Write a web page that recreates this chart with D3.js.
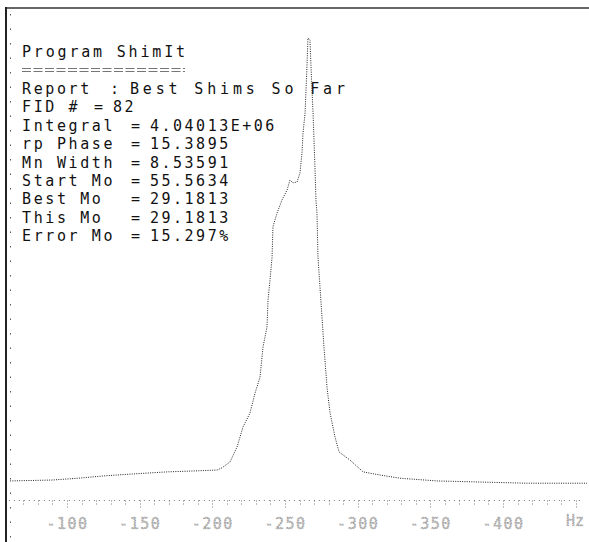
<!DOCTYPE html>
<html><head><meta charset="utf-8">
<script src="https://cdn.jsdelivr.net/npm/d3@7"></script>
<style>
html,body{margin:0;padding:0;background:#fff;}
svg{display:block;}
text{white-space:pre;}
</style></head>
<body>
<script>
// ---- data ----
const reportTitle = "Program ShimIt";
const reportLabels = ["Report","FID #","Integral","rp Phase","Mn Width","Start Mo","Best Mo","This Mo","Error Mo"];
const reportSeps   = [":","=","=","=","=","=","=","=","="];
const reportValues = ["Best Shims So Far","82","4.04013E+06","15.3895","8.53591","55.5634","29.1813","29.1813","15.297%"];
// spectrum: frequency (Hz) and intensity (arbitrary units)
const freqHz = [-60.8,-89.7,-107.6,-124.8,-143.3,-168.8,-186.7,-203.2,-206.7,-212.2,-217.0,-221.1,-225.9,-229.4,-232.8,-234.9,-237.6,-238.3,-239.7,-241.1,-241.7,-244.5,-247.9,-251.4,-253.4,-255.5,-258.3,-260.3,-261.7,-262.4,-263.8,-265.1,-265.8,-267.2,-267.9,-269.3,-270.6,-271.3,-272.0,-272.7,-274.8,-276.8,-278.9,-281.0,-284.4,-287.2,-294.7,-303.7,-315.4,-329.1,-354.6,-379.4,-416.5,-457.8];
const intensity = [2.0,2.2,2.6,3.1,3.5,4.0,4.2,4.4,4.9,6.2,9.5,13.9,17.0,21.4,24.9,31.6,36.0,41.9,46.4,51.4,58.1,61.1,64.0,66.2,68.4,67.8,68.0,70.0,74.4,78.8,83.2,93.4,99.8,99.3,93.4,83.2,71.3,64.0,61.1,51.4,41.3,31.6,22.7,17.0,11.7,8.4,6.6,4.0,3.3,2.6,2.0,1.8,1.5,1.5];
const tickValues = [-100,-150,-200,-250,-300,-350,-400];
const tickLabels = ["-100","-150","-200","-250","-300","-350","-400"];
const unitLabel = "Hz";

// ---- drawing ----
const W = 589, H = 542;
const svg = d3.select("body").append("svg").attr("width", W).attr("height", H);

const x = d3.scaleLinear().domain([-100, -400]).range([67, 503]);
const y = d3.scaleLinear().domain([0, 100]).range([490, 37]);

// frame
svg.append("line").attr("x1",5).attr("x2",W).attr("y1",8).attr("y2",8)
  .attr("stroke","#666").attr("stroke-width",2);
svg.append("line").attr("x1",6).attr("x2",6).attr("y1",7).attr("y2",H)
  .attr("stroke","#222").attr("stroke-width",2);
// left dotted edge
svg.append("line").attr("x1",10.5).attr("x2",10.5).attr("y1",14).attr("y2",H)
  .attr("stroke","#555").attr("stroke-width",1).attr("stroke-dasharray","1.5,13");

// report text
const tf = "'DejaVu Sans Mono', 'Liberation Mono', monospace";
const tx = 22;
function styleText(s){ return s.attr("font-family",tf).attr("font-size",15).attr("fill","#111"); }
styleText(svg.append("text").attr("x",tx).attr("y",57).text(reportTitle)
  .attr("textLength",163).attr("lengthAdjust","spacing"));
[68.5,71.5].forEach(yy => svg.append("line").attr("x1",tx).attr("x2",185).attr("y1",yy).attr("y2",yy)
  .attr("stroke","#666").attr("stroke-width",0.9).attr("stroke-dasharray","9,2.5"));

const rowY = i => 94 + i*18.4;
const sepX = i => i===0 ? 110 : (i===1 ? 94 : 131);
const valX = i => i===0 ? 130 : (i===1 ? 113 : 150);
const rows = svg.append("g").selectAll("g").data(reportLabels).join("g");
styleText(rows.append("text").attr("x",tx).attr("y",(d,i)=>rowY(i)).text(d=>d)
  .attr("letter-spacing","2.6px"));
styleText(rows.append("text").attr("x",(d,i)=>sepX(i)).attr("y",(d,i)=>rowY(i)).text((d,i)=>reportSeps[i]));
rows.each(function(d,i){
  const t = styleText(d3.select(this).append("text").attr("x",valX(i)).attr("y",rowY(i)).text(reportValues[i]));
  if (i===0) t.attr("textLength",215).attr("lengthAdjust","spacing");
  else t.attr("letter-spacing","2.5px");
});

// spectrum
const pts = freqHz.map((f,i)=>[f,intensity[i]]);
svg.append("path").datum(pts)
  .attr("d", d3.line().x(d=>x(d[0])).y(d=>y(d[1])))
  .attr("fill","none").attr("stroke","#222").attr("stroke-width",1)
  .attr("stroke-dasharray","1,1.3");

// axis
const ay = 500.5;
svg.append("line").attr("x1",x(-60)).attr("x2",x(-455)).attr("y1",ay).attr("y2",ay)
  .attr("stroke","#777").attr("stroke-width",1).attr("stroke-dasharray","1,4");
const minor = d3.range(-70, -451, -10);
svg.append("g").selectAll("line").data(minor).join("line")
  .attr("x1",d=>Math.round(x(d))+0.5).attr("x2",d=>Math.round(x(d))+0.5)
  .attr("y1",ay).attr("y2",d=> (d % 50 === 0) ? ay+9 : ay+4)
  .attr("stroke","#777").attr("stroke-width",1).attr("stroke-dasharray","1,2");

const axisG = svg.append("g").attr("transform",`translate(0,${ay})`);
const axis = d3.axisBottom(x).tickValues(tickValues).tickFormat((d,i)=>tickLabels[i]).tickSize(0).tickPadding(18);
axisG.call(axis);
axisG.select(".domain").remove();
axisG.selectAll("text").attr("font-family",tf).attr("font-size",15).attr("letter-spacing","1.5px")
  .attr("fill","#bbb").attr("stroke","#888").attr("stroke-width",0.6).attr("stroke-dasharray","1,1.5");
svg.append("text").attr("x",575).attr("y",ay+25).attr("text-anchor","middle").text(unitLabel)
  .attr("font-family",tf).attr("font-size",15)
  .attr("fill","#bbb").attr("stroke","#888").attr("stroke-width",0.6).attr("stroke-dasharray","1,1.5");
</script>
</body></html>
